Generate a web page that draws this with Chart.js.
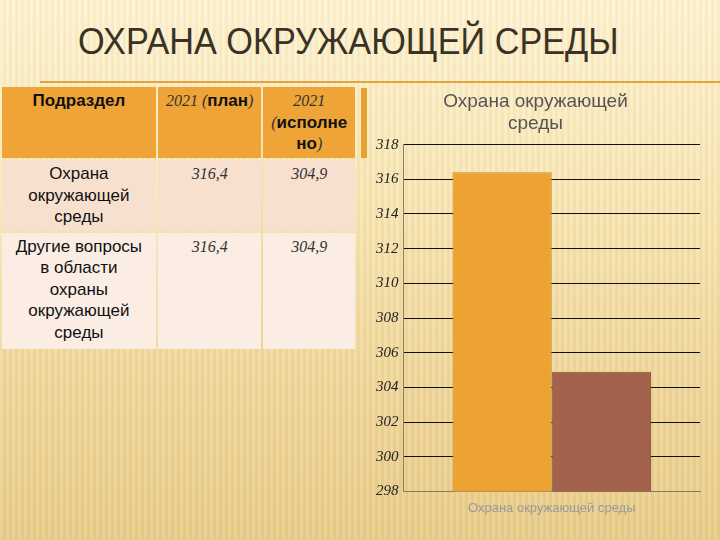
<!DOCTYPE html>
<html><head><meta charset="utf-8">
<script src="https://cdn.jsdelivr.net/npm/chart.js@4"></script>
<style>
html,body{margin:0;padding:0;}
body{width:720px;height:540px;position:relative;overflow:hidden;
background:
 repeating-linear-gradient(90deg, rgba(255,255,255,0.10) 0px, rgba(255,255,255,0.10) 3px, rgba(180,140,60,0.06) 3px, rgba(180,140,60,0.06) 6px),
 linear-gradient(180deg,#fdf3d2 0%,#f8e6b4 35%,#efd69a 70%,#e8cb88 100%);
font-family:"Liberation Sans",Arial,sans-serif;}
#title{position:absolute;left:78px;top:21px;font-family:"Liberation Sans",sans-serif;font-size:37px;color:#3b3226;white-space:nowrap;transform:scaleX(0.925);transform-origin:0 0;}
#rule{position:absolute;left:40px;top:81px;width:680px;height:2px;background:#e6a23c;}
#strip{position:absolute;left:361px;top:88px;width:6px;height:70px;background:#e8a030;}
table{position:absolute;left:0;top:85px;border-collapse:separate;border-spacing:2px;width:357px;}
td{vertical-align:top;text-align:center;padding:3px 2px;font-size:17px;line-height:21.5px;color:#111;}
tr.h td{background:#eea436;height:65px;}
tr.r1 td{background:#f8e0cf;height:64px;}
tr.r2 td{background:#fbede4;height:110px;}
.num{font-family:"Liberation Serif",serif;font-style:italic;font-size:16px;color:#333;}
.b{font-weight:bold;}
#wrap{position:absolute;left:362px;top:86px;width:352px;height:440px;}
</style></head><body>
<div id="title">ОХРАНА ОКРУЖАЮЩЕЙ СРЕДЫ</div>
<div id="rule"></div>
<div id="strip"></div>
<table>
<tr class="h"><td class="b" style="width:149px">Подраздел</td><td style="width:99px"><span class="num">2021 (</span><span class="b">план</span><span class="num">)</span></td><td style="width:87px"><span class="num">2021</span><br><span class="num">(</span><span class="b">исполне<br>но</span><span class="num">)</span></td></tr>
<tr class="r1"><td>Охрана<br>окружающей<br>среды</td><td class="num">316,4</td><td class="num">304,9</td></tr>
<tr class="r2"><td>Другие вопросы<br>в области<br>охраны<br>окружающей<br>среды</td><td class="num">316,4</td><td class="num">304,9</td></tr>
</table>
<div id="wrap"><canvas id="c" width="352" height="440"></canvas></div>
<script>
const chartTitle = ["Охрана окружающей", "среды"];
const categories = ["Охрана окружающей среды"];
const seriesNames = ["2021 (план)", "2021 (исполнено)"];
const planValues = [316.4];
const doneValues = [304.9];
const yMin = 298, yMax = 318, yStep = 2;

new Chart(document.getElementById('c'), {
  type: 'bar',
  data: {
    labels: categories,
    datasets: [
      {label: seriesNames[0], data: planValues, backgroundColor: '#eca331', borderColor: '#c98a2a', borderWidth: 1},
      {label: seriesNames[1], data: doneValues, backgroundColor: '#a3624b', borderColor: '#8a5038', borderWidth: 1}
    ]
  },
  options: {
    responsive: false,
    animation: false,
    layout: {padding: {left: 9, right: 14, top: 0, bottom: 1}},
    plugins: {
      legend: {display: false},
      tooltip: {enabled: false},
      title: {display: true, text: chartTitle, color: '#555', font: {family: 'Liberation Sans', size: 19, weight: 'normal', lineHeight: 1.2}, padding: {top: 4, bottom: 9}}
    },
    datasets: {bar: {categoryPercentage: 0.67, barPercentage: 1.0}},
    scales: {
      x: {
        grid: {display: false, drawTicks: false},
        border: {display: true, color: '#8a7a60'},
        ticks: {color: '#999', font: {family: 'Liberation Sans', size: 13}, padding: 9}
      },
      y: {
        min: yMin, max: yMax,
        ticks: {stepSize: yStep, color: '#222', padding: 5, font: {family: 'Liberation Serif', style: 'italic', size: 15}},
        grid: {color: '#111', lineWidth: 1, drawTicks: false},
        border: {display: true, color: '#8a7a60'}
      }
    }
  }
});
</script>
</body></html>
